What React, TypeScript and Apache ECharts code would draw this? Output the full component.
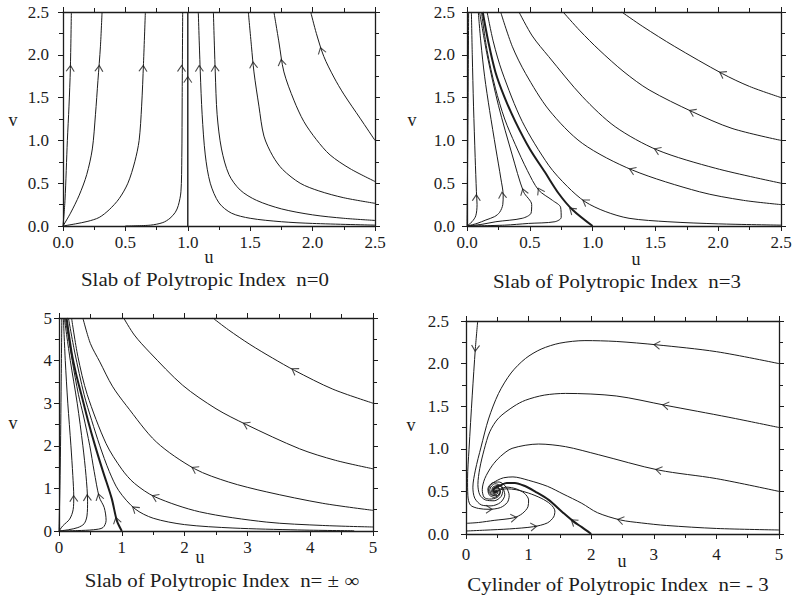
import React, { useEffect, useRef } from "react";
import * as echarts from "echarts";

// ---------- Panel 1: slab n=0 (u 0..2.5, v 0..2.5) ----------
const p1A = [[0,0],[0.016,0.3],[0.035,1.0],[0.048,1.4],[0.059,1.84],[0.067,2.5]];
const p1B = [[0,0],[0.06,0.15],[0.13,0.36],[0.19,0.6],[0.235,0.9],[0.26,1.3],[0.28,1.7],[0.3,2.1],[0.313,2.5]];
const p1C = [[0,0],[0.1,0.025],[0.2,0.055],[0.29,0.1],[0.37,0.19],[0.45,0.32],[0.52,0.5],[0.575,0.75],[0.61,1.0],[0.63,1.4],[0.645,1.9],[0.66,2.5]];
const p1D = [[0.5,0],[0.7,0.01],[0.8,0.04],[0.857,0.09],[0.9,0.16],[0.924,0.24],[0.945,0.4],[0.952,0.8],[0.955,1.5],[0.959,2.5]];
const p1E = [[1.084,2.5],[1.1,1.8],[1.115,1.3],[1.14,0.83],[1.18,0.5],[1.25,0.27],[1.35,0.15],[1.5,0.09],[1.75,0.05],[2.0,0.03],[2.5,0.01]];
const p1F = [[1.205,2.5],[1.22,1.8],[1.235,1.3],[1.27,0.9],[1.33,0.6],[1.42,0.42],[1.55,0.3],[1.75,0.2],[2.0,0.13],[2.25,0.09],[2.5,0.065]];
const p1G = [[1.485,2.5],[1.51,2.1],[1.53,1.8],[1.57,1.4],[1.61,1.05],[1.68,0.82],[1.76,0.66],[1.9,0.5],[2.05,0.41],[2.25,0.33],[2.5,0.265]];
const p1H = [[1.69,2.5],[1.73,2.15],[1.77,1.8],[1.85,1.47],[1.93,1.22],[2.03,1.01],[2.14,0.83],[2.3,0.67],[2.5,0.52]];
const p1I = [[1.985,2.5],[2.03,2.25],[2.09,1.98],[2.17,1.74],[2.25,1.54],[2.38,1.26],[2.5,1.0]];
const p1Sep = [[1,0],[1,2.5]];
const p1Arrows = [[0.059,1.84,-3],[0.289,1.84,-4],[0.642,1.84,-3],[0.95,1.84,-1],[1.0,1.71,0],[1.092,1.84,2],[1.218,1.84,3],[1.525,1.88,6],[1.752,1.91,10],[2.07,2.05,17]];

// ---------- Panel 2: slab n=3 ----------
const p2Wall = [[0,0],[0.005,0.8],[0.01,1.8],[0.013,2.5]];
const p2U1 = [[0,0],[0.04,0.05],[0.07,0.12],[0.08,0.25],[0.075,0.4],[0.065,0.8],[0.052,1.4],[0.042,2.0],[0.035,2.5]];
const p2U2 = [[0,0],[0.08,0.03],[0.15,0.07],[0.22,0.11],[0.26,0.16],[0.285,0.25],[0.288,0.36],[0.27,0.55],[0.23,0.9],[0.18,1.35],[0.14,1.75],[0.11,2.15],[0.09,2.5]];
const p2U3 = [[0,0],[0.12,0.02],[0.23,0.05],[0.44,0.09],[0.51,0.15],[0.515,0.25],[0.45,0.4],[0.36,0.83],[0.25,1.41],[0.16,2.0],[0.1,2.5]];
const p2U4 = [[0,0],[0.3,0.01],[0.49,0.03],[0.7,0.05],[0.75,0.1],[0.745,0.22],[0.68,0.3],[0.57,0.42],[0.48,0.65],[0.385,0.95],[0.3,1.25],[0.226,1.61],[0.16,2.05],[0.115,2.5]];
const p2R5 = [[0.16,2.5],[0.21,2.15],[0.28,1.8],[0.44,1.22],[0.65,0.71],[0.8,0.46],[0.94,0.284],[1.1,0.17],[1.29,0.09],[1.6,0.05],[2.0,0.025],[2.5,0.01]];
const p2R4 = [[0.268,2.5],[0.36,2.1],[0.467,1.78],[0.653,1.355],[0.918,0.966],[1.316,0.654],[1.85,0.4],[2.2,0.3],[2.5,0.25]];
const p2R3 = [[0.414,2.5],[0.52,2.22],[0.65,1.98],[0.92,1.51],[1.18,1.16],[1.515,0.888],[1.98,0.674],[2.5,0.5]];
const p2R2 = [[0.765,2.5],[0.9,2.28],[1.05,2.06],[1.25,1.8],[1.45,1.59],[1.794,1.335],[2.11,1.14],[2.5,1.0]];
const p2R1 = [[1.232,2.5],[1.4,2.33],[1.65,2.1],[2.033,1.78],[2.25,1.63],[2.5,1.5]];
const p2Sep = [[1.0,0],[0.84,0.19],[0.73,0.38],[0.62,0.63],[0.5,0.9],[0.385,1.22],[0.3,1.5],[0.226,1.8],[0.17,2.15],[0.125,2.5]];
const p2Arrows = [[0.074,0.33,0],[0.281,0.36,6],[0.451,0.40,18],[0.58,0.41,28],[0.836,0.187,50],[0.942,0.284,57],[1.316,0.654,68],[1.515,0.888,67],[1.794,1.335,65],[2.033,1.78,60]];

// ---------- Panel 3: slab n=±∞ (u 0..5, v 0..5) ----------
const p3Wall = [[0,0],[0.02,1.5],[0.035,3.5],[0.045,5]];
const p3U1 = [[0,0],[0.06,0.12],[0.17,0.28],[0.225,0.5],[0.235,0.8],[0.22,1.3],[0.19,2.0],[0.14,3.0],[0.1,4.0],[0.07,5]];
const p3U2 = [[0,0],[0.15,0.03],[0.3,0.08],[0.4,0.17],[0.445,0.35],[0.455,0.7],[0.43,1.3],[0.38,2.0],[0.29,3.0],[0.18,4.0],[0.085,5]];
const p3U3 = [[0,0],[0.3,0.01],[0.55,0.03],[0.7,0.08],[0.75,0.25],[0.72,0.55],[0.64,0.8],[0.56,1.4],[0.49,2.0],[0.39,2.7],[0.31,3.2],[0.21,4.0],[0.1,5]];
const p3P5 = [[0.15,5],[0.25,4.2],[0.4,3.2],[0.52,2.6],[0.65,2.0],[0.8,1.4],[0.95,0.95],[1.21,0.52],[1.5,0.3],[2.0,0.15],[2.77,0.07],[3.8,0.025],[4.7,0.005]];
const p3P4 = [[0.2,5],[0.3,4.1],[0.45,3.2],[0.75,2.05],[1.0,1.45],[1.2,1.12],[1.53,0.8],[2.24,0.45],[3.3,0.21],[4.2,0.13],[5,0.094]];
const p3P3 = [[0.38,5],[0.5,4.4],[0.65,3.97],[0.85,3.4],[1.07,2.95],[1.55,2.09],[2.16,1.46],[2.7,1.15],[3.3,0.92],[4.2,0.65],[5,0.485]];
const p3P2 = [[1.03,5],[1.2,4.6],[1.44,4.2],[1.97,3.42],[2.5,2.87],[2.98,2.5],[3.83,1.93],[4.4,1.66],[5,1.46]];
const p3P1 = [[2.45,5],[2.7,4.72],[3.04,4.38],[3.4,4.06],[3.75,3.77],[4.36,3.33],[5,3.0]];
const p3Sep = [[1.0,0],[0.92,0.25],[0.84,0.76],[0.7,1.4],[0.573,2.01],[0.46,2.6],[0.36,3.18],[0.27,3.7],[0.2,4.2],[0.12,5]];
const p3Arrows = [[0.234,0.76,2],[0.45,0.78,3],[0.64,0.8,15],[0.918,0.25,15],[1.21,0.52,51],[1.53,0.8,66],[2.16,1.46,61],[2.98,2.5,64],[3.75,3.77,58]];

// ---------- Panel 4: cylinder n=-3 (u 0..5, v 0..2.5) ----------
const p4Q1 = [[0.187,2.5],[0.15,2.18],[0.1,1.63],[0.048,0.99],[0.025,0.65],[0.03,0.45],[0.07,0.34],[0.2,0.3],[0.367,0.29],[0.55,0.31],[0.66,0.37],[0.69,0.45],[0.64,0.55],[0.53,0.61],[0.42,0.6],[0.35,0.53],[0.37,0.46],[0.45,0.43],[0.53,0.47],[0.52,0.54],[0.46,0.54],[0.44,0.5],[0.47,0.5]];
const p4Qb = [[0,0.125],[0.2,0.135],[0.45,0.16],[0.762,0.19],[0.9,0.24],[0.99,0.32],[1.0,0.4],[0.93,0.48],[0.8,0.53],[0.65,0.55],[0.55,0.53],[0.5,0.5],[0.47,0.49],[0.48,0.51]];
const p4Qc = [[0,0.035],[0.3,0.045],[0.7,0.06],[1.08,0.086],[1.3,0.13],[1.4,0.2],[1.42,0.27],[1.35,0.35],[1.2,0.42],[1.0,0.48],[0.8,0.52],[0.65,0.53],[0.55,0.52],[0.5,0.5],[0.48,0.51]];
const p4Qd = [[5,0.047],[4,0.065],[3.2,0.1],[2.8,0.13],[2.47,0.164],[2.1,0.25],[1.85,0.36],[1.55,0.47],[1.3,0.56],[1.0,0.63],[0.75,0.67],[0.6,0.66],[0.5,0.63],[0.4,0.58],[0.36,0.52],[0.4,0.46],[0.5,0.45],[0.55,0.5],[0.5,0.54],[0.46,0.52],[0.47,0.51]];
const p4Qe = [[5,0.5],[4,0.65],[3.08,0.75],[2.12,0.93],[1.59,1.025],[1.16,1.056],[0.736,1.005],[0.55,0.91],[0.416,0.8],[0.3,0.65],[0.26,0.52],[0.29,0.43],[0.38,0.41],[0.5,0.43],[0.55,0.49],[0.51,0.55],[0.44,0.54],[0.42,0.5],[0.46,0.48],[0.48,0.51]];
const p4Qf = [[5,1.25],[4.2,1.37],[3.19,1.51],[2.4,1.62],[1.59,1.65],[1.25,1.63],[0.95,1.57],[0.767,1.5],[0.52,1.36],[0.38,1.2],[0.29,0.99],[0.22,0.77],[0.19,0.58],[0.22,0.46],[0.31,0.4],[0.45,0.39],[0.56,0.44],[0.59,0.52],[0.52,0.57],[0.43,0.55],[0.41,0.49],[0.47,0.47],[0.49,0.51]];
const p4Qg = [[5,2.0],[4,2.14],[3.05,2.22],[2.4,2.26],[1.9,2.27],[1.5,2.24],[1.2,2.17],[0.95,2.06],[0.72,1.89],[0.52,1.65],[0.36,1.35],[0.24,1.02],[0.15,0.75],[0.11,0.55],[0.14,0.42],[0.25,0.34],[0.4,0.33],[0.55,0.37],[0.62,0.46],[0.57,0.56],[0.46,0.59],[0.38,0.52],[0.42,0.46],[0.5,0.47],[0.5,0.52],[0.47,0.51]];
const p4Sep = [[2.0,0],[1.85,0.08],[1.72,0.145],[1.55,0.25],[1.32,0.4],[1.1,0.5],[0.95,0.56],[0.78,0.6],[0.65,0.6],[0.55,0.57],[0.48,0.55],[0.44,0.52],[0.46,0.49],[0.49,0.5]];
const p4Arrows = [[0.15,2.18,176],[0.367,0.29,-90],[0.762,0.19,-83],[1.08,0.086,-84],[1.72,0.145,52],[2.47,0.164,77],[3.08,0.75,78],[3.19,1.51,80],[3.05,2.22,84]];

// tick setup per panel
const xMaxes = [2.5, 2.5, 5, 5];
const yMaxes = [2.5, 2.5, 5, 2.5];
const xSteps = [0.5, 0.5, 1, 1];
const ySteps = [0.5, 0.5, 1, 0.5];
const xDecimals = [1, 1, 0, 0];
const yDecimals = [1, 1, 0, 1];
const titles = [
  "Slab of Polytropic Index  n=0",
  "Slab of Polytropic Index  n=3",
  "Slab of Polytropic Index  n= \u00b1 \u221e",
  "Cylinder of Polytropic Index  n= - 3",
];

const curvesPerPanel = [
  [p1A, p1B, p1C, p1D, p1E, p1F, p1G, p1H, p1I],
  [p2Wall, p2U1, p2U2, p2U3, p2U4, p2R5, p2R4, p2R3, p2R2, p2R1],
  [p3Wall, p3U1, p3U2, p3U3, p3P5, p3P4, p3P3, p3P2, p3P1],
  [p4Q1, p4Qb, p4Qc, p4Qd, p4Qe, p4Qf, p4Qg],
];
const sepPerPanel = [p1Sep, p2Sep, p3Sep, p4Sep];
const arrowsPerPanel = [p1Arrows, p2Arrows, p3Arrows, p4Arrows];

// layout
const grids = [
  { left: 63, top: 12, width: 312, height: 214 },
  { left: 467, top: 12, width: 314, height: 214 },
  { left: 59, top: 318, width: 314, height: 213 },
  { left: 466, top: 321, width: 313, height: 213 },
];
const xLabelMargin = [8, 8, 8, 12];
const yLabelMargin = [14, 12, 7, 17];
const uPos = [[209, 257], [636, 259], [200, 557], [622, 561]];
const vPos = [[13, 120], [412, 120], [13, 423], [411, 425]];
const titlePos = [[205, 279], [617, 281], [222, 580], [618, 584]];
const sepWidth = [1.4, 2, 2, 2];

const FONT = "'Liberation Serif','Times New Roman',serif";
const INK = "#1c1c1c";

function makeAxis(i: number, isX: boolean, main: boolean) {
  const max = isX ? xMaxes[i] : yMaxes[i];
  const step = isX ? xSteps[i] : ySteps[i];
  const dec = isX ? xDecimals[i] : yDecimals[i];
  return {
    gridIndex: i,
    type: "value",
    min: 0,
    max,
    interval: step,
    position: isX ? (main ? "bottom" : "top") : main ? "left" : "right",
    axisLine: { show: true, onZero: false, lineStyle: { color: INK, width: 1.3 } },
    axisTick: { show: true, inside: false, length: 5, lineStyle: { color: INK, width: 1 } },
    minorTick: { show: true, splitNumber: 2, length: 4, lineStyle: { color: INK, width: 1 } },
    splitLine: { show: false },
    minorSplitLine: { show: false },
    axisLabel: {
      show: main,
      margin: isX ? xLabelMargin[i] : yLabelMargin[i],
      fontFamily: FONT,
      fontSize: 17,
      color: INK,
      formatter: (v: number) => v.toFixed(dec),
    },
  };
}

export default function App() {
  const ref = useRef<HTMLDivElement>(null);
  useEffect(() => {
    if (!ref.current) return;
    const chart = echarts.init(ref.current, undefined, { renderer: "svg" });
    const xAxis: any[] = [];
    const yAxis: any[] = [];
    const series: any[] = [];
    const graphic: any[] = [];
    for (let i = 0; i < 4; i++) {
      xAxis.push(makeAxis(i, true, true), makeAxis(i, true, false));
      yAxis.push(makeAxis(i, false, true), makeAxis(i, false, false));
      const ax = { xAxisIndex: 2 * i, yAxisIndex: 2 * i };
      curvesPerPanel[i].forEach((c) => {
        series.push({
          type: "line", ...ax, data: c, showSymbol: false, smooth: 0.3, silent: true,
          lineStyle: { color: INK, width: 1 },
        });
      });
      series.push({
        type: "line", ...ax, data: sepPerPanel[i], showSymbol: false, smooth: 0.3, silent: true,
        lineStyle: { color: INK, width: sepWidth[i] },
      });
      series.push({
        type: "scatter", ...ax, silent: true,
        symbol: "path://M0,7L5,0L10,7",
        symbolSize: [8, 6],
        itemStyle: { color: "rgba(0,0,0,0)", borderColor: INK, borderWidth: 1 },
        data: arrowsPerPanel[i].map((a) => ({ value: [a[0], a[1]], symbolRotate: a[2] })),
      });
      graphic.push(
        { type: "text", x: uPos[i][0], y: uPos[i][1], style: { text: "u", font: `18px ${FONT}`, fill: INK, textAlign: "center", textVerticalAlign: "middle" } },
        { type: "text", x: vPos[i][0], y: vPos[i][1], style: { text: "v", font: `18px ${FONT}`, fill: INK, textAlign: "center", textVerticalAlign: "middle" } },
        { type: "text", x: titlePos[i][0], y: titlePos[i][1], scaleX: 1.1, style: { text: titles[i], font: `19px ${FONT}`, fill: INK, textAlign: "center", textVerticalAlign: "middle" } },
      );
    }
    chart.setOption({
      animation: false,
      backgroundColor: "#ffffff",
      grid: grids,
      xAxis,
      yAxis,
      series,
      graphic,
    });
    return () => chart.dispose();
  }, []);
  return <div ref={ref} style={{ position: "fixed", left: 0, top: 0, width: 799, height: 595 }} />;
}
